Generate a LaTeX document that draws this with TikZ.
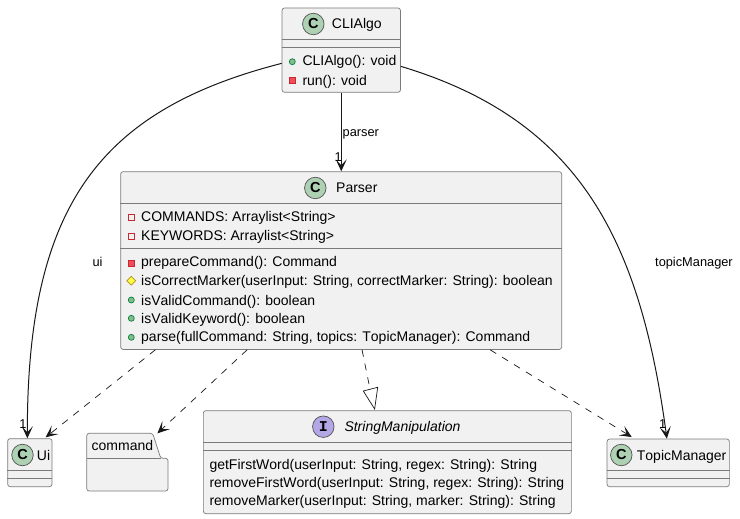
\documentclass[tikz,border=0pt]{standalone}
\usepackage{fontspec}
\setmainfont[Kerning=Off]{Liberation Sans}
\newfontfamily\spotmono{Liberation Mono}
\usetikzlibrary{arrows.meta,calc,shapes.geometric}
\definecolor{boxfill}{HTML}{F1F1F1}
\definecolor{boxline}{HTML}{7B7B7B}
\definecolor{spotC}{HTML}{ADD1B2}
\definecolor{spotI}{HTML}{B4A7E5}
\definecolor{edge}{HTML}{181818}
\definecolor{pubf}{HTML}{84BE84}
\definecolor{publ}{HTML}{038048}
\definecolor{privf}{HTML}{F24D5C}
\definecolor{privl}{HTML}{C82930}
\definecolor{protf}{HTML}{FFFF44}
\definecolor{protl}{HTML}{B38D22}
\tikzset{
  x=1pt,y=-1pt,
  umlbox/.style={draw=boxline,fill=boxfill,line width=.7pt,rounded corners=2.5pt,inner sep=0pt,anchor=north west},
  sep/.style={draw=boxline,line width=.7pt},
  txt/.style={inner sep=0pt,anchor=base west,font=\fontsize{14}{16}\selectfont,text=black},
  lab/.style={inner sep=0pt,anchor=base west,font=\fontsize{12.8}{15}\selectfont,text=black},
  spot/.style={circle,draw=edge!75,line width=.7pt,minimum size=21.5pt,inner sep=0pt,font=\bfseries\fontsize{14.5}{16}\selectfont},
  assoc/.style={draw=edge,line width=1pt,-{Stealth[length=12pt,width=11pt,inset=6pt]}},
  depend/.style={draw=edge,line width=.7pt,dash pattern=on 7pt off 7pt,-{Stealth[length=12pt,width=11pt,inset=6pt]}},
  realize/.style={draw=edge,line width=.7pt,dash pattern=on 7pt off 7pt},
  pubm/.style={circle,draw=publ,fill=pubf,line width=.7pt,minimum size=6pt,inner sep=0pt},
  privm/.style={rectangle,draw=privl,fill=privf,line width=.7pt,minimum size=6pt,inner sep=0pt},
  privo/.style={rectangle,draw=privl,fill=none,line width=.7pt,minimum size=6pt,inner sep=0pt},
  protm/.style={diamond,draw=protl,fill=protf,line width=.7pt,minimum size=9pt,inner sep=0pt},
}
\begin{document}
\begin{tikzpicture}
\useasboundingbox (0,0) rectangle (740,519);
\fill[white] (0,0) rectangle (740,519);
% boxes
\node[umlbox,minimum width=118.4pt,minimum height=84.4pt] (cli) at (281.7,7.6) {};
\draw[sep] (cli.west |- 0,39.3) -- (cli.east |- 0,39.3);
\draw[sep] (cli.west |- 0,47.7) -- (cli.east |- 0,47.7);
\node[spot,fill=spotC] (s1) at (313.3,24) {C};
\node[txt] (t1) at (331.7,29) {CLIAlgo};
\node[pubm] (m1) at (292.3,61.7) {};
\node[txt] (t2) at (302.3,65.7) {CLIAlgo(): void};
\node[privm] (m2) at (292.3,80.3) {};
\node[txt] (t3) at (302.3,85) {run(): void};

\node[umlbox,minimum width=441pt,minimum height=177.8pt] (parser) at (120.3,171.3) {};
\draw[sep] (parser.west |- 0,203.3) -- (parser.east |- 0,203.3);
\draw[sep] (parser.west |- 0,248.3) -- (parser.east |- 0,248.3);
\node[spot,fill=spotC] (s2) at (315.3,188) {C};
\node[txt] (t4) at (336,193) {Parser};
\node[privo] (m3) at (131.3,217.3) {};
\node[txt] (t5) at (141,221.7) {COMMANDS: Arraylist<String>};
\node[privo] (m4) at (131.3,236.3) {};
\node[txt] (t6) at (141,240.7) {KEYWORDS: Arraylist<String>};
\node[privm] (m5) at (131.3,263.3) {};
\node[txt] (t7) at (141,266.7) {prepareCommand(): Command};
\node[protm] (m6) at (131.3,280.7) {};
\node[txt] (t8) at (141,285.7) {isCorrectMarker(userInput: String, correctMarker: String): boolean};
\node[pubm] (m7) at (131.3,300) {};
\node[txt] (t9) at (141,305) {isValidCommand(): boolean};
\node[pubm] (m8) at (131.3,318.3) {};
\node[txt] (t10) at (141,323.3) {isValidKeyword(): boolean};
\node[pubm] (m9) at (131.3,337.3) {};
\node[txt] (t11) at (141,341.7) {parse(fullCommand: String, topics: TopicManager): Command};

\node[umlbox,minimum width=44.4pt,minimum height=48pt] (ui) at (7.3,438.3) {};
\draw[sep] (ui.west |- 0,470.3) -- (ui.east |- 0,470.3);
\draw[sep] (ui.west |- 0,478.3) -- (ui.east |- 0,478.3);
\node[spot,fill=spotC] (s3) at (22.5,455) {C};
\node[txt] (t12) at (36.7,460) {Ui};

\node[umlbox,minimum width=80.6pt,minimum height=57pt,draw=none,fill=none] (cmd) at (86.7,433.3) {};
\path[draw=boxline,fill=boxfill,line width=.7pt,rounded corners=2.5pt]
  (cmd.north west) -- ++(66,0) -- ++(8,25) -- (cmd.east |- 0,458.3) -- (cmd.south east) -- (cmd.south west) -- cycle;
\draw[sep] (cmd.west |- 0,458.3) -- (160.7,458.3);
\node[txt] (t13) at (91.5,450.7) {command};

\node[umlbox,minimum width=368pt,minimum height=103pt] (sm) at (203,410.3) {};
\draw[sep] (sm.west |- 0,442.3) -- (sm.east |- 0,442.3);
\draw[sep] (sm.west |- 0,450.3) -- (sm.east |- 0,450.3);
\node[spot,fill=spotI,font=\spotmono\bfseries\fontsize{15}{16}\selectfont] (s4) at (323.3,426.7) {I};
\node[txt,font=\itshape\fontsize{14}{16}\selectfont] (t14) at (344.3,431.7) {StringManipulation};
\node[txt] (t15) at (209.3,469) {getFirstWord(userInput: String, regex: String): String};
\node[txt] (t16) at (209.3,487.7) {removeFirstWord(userInput: String, regex: String): String};
\node[txt] (t17) at (209.3,505.7) {removeMarker(userInput: String, marker: String): String};

\node[umlbox,minimum width=122.3pt,minimum height=47.6pt] (tm) at (606.7,438.7) {};
\draw[sep] (tm.west |- 0,470.3) -- (tm.east |- 0,470.3);
\draw[sep] (tm.west |- 0,478.3) -- (tm.east |- 0,478.3);
\node[spot,fill=spotC] (s5) at (621.3,455) {C};
\node[txt] (t18) at (636.7,460) {TopicManager};

% connectors
\draw[assoc] (cli.south) -- (cli.south |- parser.north);
\draw[assoc] ([yshift=-13.2pt]cli.west) .. controls (100,110) and (27,205) .. ([xshift=-2.5pt]ui.north);
\draw[assoc] ([yshift=-16.2pt]cli.east) .. controls (580,120) and (640,240) .. ([xshift=-1.3pt]tm.north);
\draw[depend] ([xshift=-185.8pt]parser.south) -- ([xshift=-6.7pt,yshift=1pt]ui.north east);
\draw[depend] ([xshift=-94pt]parser.south) -- ([xshift=-10.6pt]cmd.north east);
\draw[depend] ([xshift=149pt]parser.south) -- ([xshift=25pt,yshift=1.7pt]tm.north west);
\draw[realize] ([xshift=20.9pt]parser.south) -- (370,389);
\path[draw=edge,fill=white,line width=.7pt] (363.3,391) -- (377.7,387.3) -- ([xshift=-12.7pt,yshift=1.3pt]sm.north) -- cycle;

% labels
\node[lab] (l1) at (342.5,136.7) {parser};
\node[lab] (l2) at (92.3,266) {ui};
\node[lab] (l3) at (655,266) {topicManager};
\node[lab] (l4) at (334.3,161) {1};
\node[lab] (l5) at (19.3,428) {1};
\node[lab] (l6) at (658.8,428) {1};
\end{tikzpicture}
\end{document}
